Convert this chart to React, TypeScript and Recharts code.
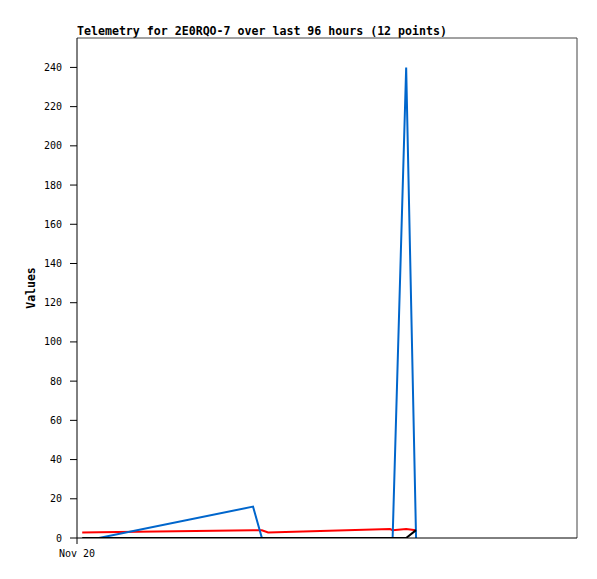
import { LineChart, Line, XAxis, YAxis, Label, ReferenceLine } from "recharts";

// hours since Nov 20 00:00
const hours = [1.0, 4.2, 33.8, 35.5, 36.7, 60.1, 60.6, 63.2, 65.1];
const redValues = [2.8, 2.9, 3.9, 3.9, 2.8, 4.6, 4.0, 4.6, 4.0];
const blueValues = [null, 0, 16, 0, 0, 0, 0, 240, 0];
const blackValues = [0, 0, 0, 0, 0, 0, 0, 0, 4];

const yTicks = [0, 20, 40, 60, 80, 100, 120, 140, 160, 180, 200, 220, 240];
const yMax = 255;
const xMax = 96;
const xTicks = [0];
const xTickLabels = ["Nov 20"];

const data = hours.map((t, i) => ({
  t,
  red: redValues[i],
  blue: blueValues[i],
  black: blackValues[i],
}));

const mono = "'DejaVu Sans Mono', monospace";
const tickStyle = { fill: "#000", fontSize: 10, fontFamily: mono };

const App = () => {
  return (
    <div style={{ position: "absolute", left: 0, top: 0, width: 597, height: 579, background: "#fff" }}>
      <div
        style={{
          position: "absolute",
          left: 77,
          top: 24,
          fontFamily: mono,
          fontWeight: "bold",
          fontSize: 11.6,
          color: "#000",
          whiteSpace: "nowrap",
        }}
      >
        Telemetry for 2E0RQO-7 over last 96 hours (12 points)
      </div>
      <LineChart
        width={597}
        height={579}
        data={data}
        margin={{ top: 38, right: 20, bottom: 11, left: 0 }}
        style={{ position: "absolute", left: 0, top: 0 }}
      >
        <XAxis
          dataKey="t"
          type="number"
          domain={[0, xMax]}
          ticks={xTicks}
          tickFormatter={(v: number) => xTickLabels[xTicks.indexOf(v)] ?? ""}
          tick={tickStyle}
          tickSize={6}
          tickMargin={6}
          height={30}
          axisLine={{ stroke: "#000" }}
          tickLine={{ stroke: "#000" }}
        />
        <YAxis
          domain={[0, yMax]}
          ticks={yTicks}
          allowDataOverflow
          width={77}
          tick={tickStyle}
          tickSize={7}
          tickMargin={8}
          axisLine={{ stroke: "#000" }}
          tickLine={{ stroke: "#000" }}
        >
          <Label
            content={({ viewBox }: any) => {
              const cx = 31;
              const cy = viewBox.y + viewBox.height / 2;
              return (
                <text
                  x={cx}
                  y={cy}
                  transform={`rotate(-90, ${cx}, ${cy})`}
                  textAnchor="middle"
                  dominantBaseline="central"
                  fontFamily={mono}
                  fontWeight="bold"
                  fontSize={11.5}
                  fill="#000"
                >
                  Values
                </text>
              );
            }}
          />
        </YAxis>
        {/* plot frame, top and right */}
        <ReferenceLine y={yMax} stroke="#444" strokeWidth={1} />
        <ReferenceLine x={xMax} stroke="#444" strokeWidth={1} />
        <Line
          type="linear"
          dataKey="red"
          stroke="#ff0000"
          strokeWidth={2}
          dot={false}
          isAnimationActive={false}
        />
        <Line
          type="linear"
          dataKey="blue"
          stroke="#0066cc"
          strokeWidth={2}
          dot={false}
          isAnimationActive={false}
        />
        <Line
          type="linear"
          dataKey="black"
          stroke="#000"
          strokeWidth={2}
          dot={false}
          isAnimationActive={false}
        />
      </LineChart>
    </div>
  );
};

export default App;
